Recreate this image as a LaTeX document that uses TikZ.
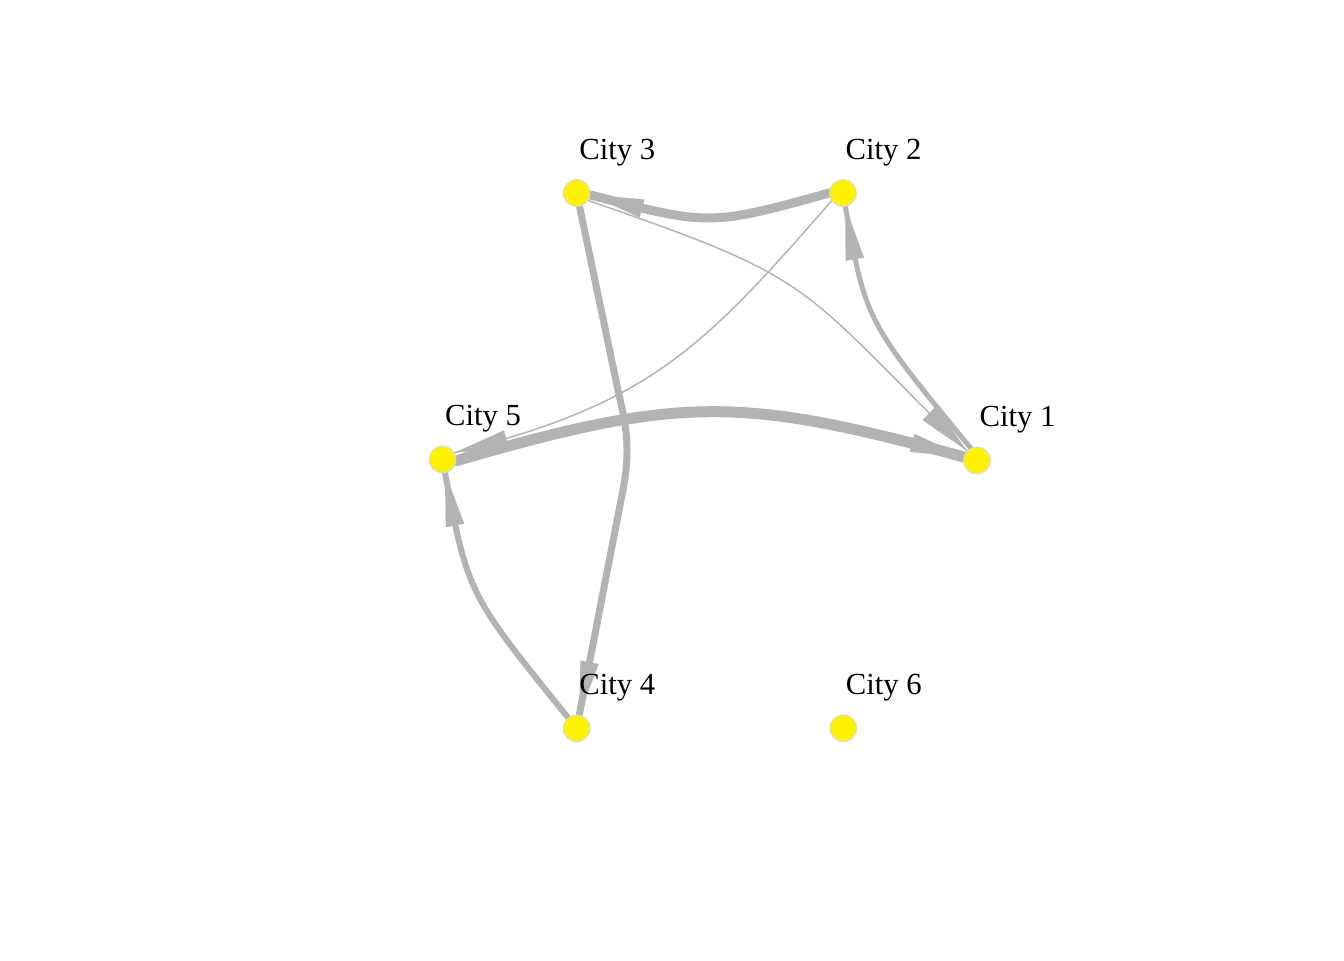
\documentclass[tikz,border=0pt]{standalone}
\usepackage{fontspec}
\setmainfont{Liberation Serif}
\usetikzlibrary{arrows.meta,decorations.markings,backgrounds}
\definecolor{edgegray}{HTML}{B3B3B3}
\definecolor{framegray}{HTML}{D9D9D9}
\begin{document}
\begin{tikzpicture}[x=0.75pt,y=-0.75pt,
  city/.style={circle,fill=yellow,draw=framegray,line width=0.75pt,minimum size=20pt,inner sep=0pt},
  lbl/.style={anchor=base,inner sep=0pt,font=\fontsize{23}{27}\selectfont,text=black},
  edge/.style={draw=edgegray,line cap=round,postaction={decorate},
    decoration={markings,mark=at position 0.9999 with {\arrow{Triangle[length=40pt,width=14pt,line width=0.1pt,color=edgegray]}}}},
]
\useasboundingbox (0,0) rectangle (1344,960);
% nodes
\node[city] (c1) at (977,460.5) {};
\node[city] (c2) at (843,193) {};
\node[city] (c3) at (576.7,193) {};
\node[city] (c4) at (576.7,728.3) {};
\node[city] (c5) at (442.5,459.5) {};
\node[city] (c6) at (843.3,728.3) {};
% labels
\node[lbl] (l1) at (1017.5,426.5) {City 1};
\node[lbl] (l2) at (883.5,159) {City 2};
\node[lbl] (l3) at (617.2,159) {City 3};
\node[lbl] (l4) at (617.2,694.3) {City 4};
\node[lbl] (l5) at (483,425.5) {City 5};
\node[lbl] (l6) at (883.8,694.3) {City 6};
% edges
\begin{scope}[on background layer]
\fill[white] (0,0) rectangle (1344,960);
\draw[edge,line width=6.75pt] (c2.west) .. controls (710,226) and (709,226) .. (c3.-8);
\draw[edge,line width=5.25pt] (c3) -- (619,395) .. controls (623,412) and (627,430) .. (627,450) .. controls (627,470) and (624,485) .. (621,500) -- (c4);
\draw[edge,line width=1.1pt] (c3.-33) .. controls (819,280) and (796,282) .. (c1.136);
\draw[edge,line width=1.1pt] (c2.214) .. controls (701,351) and (648,404) .. (c5.30);
\draw[edge,line width=3.75pt] (c1.117) .. controls (865.6,320.6) and (865.6,320.6) .. (c2);
\draw[edge,line width=4.5pt] (c4) .. controls (468,594) and (468,594) .. (c5);
\draw[edge,line width=8.25pt] (c5.-5) .. controls (680,396) and (740,396) .. (c1.165);
\end{scope}
\end{tikzpicture}
\end{document}
